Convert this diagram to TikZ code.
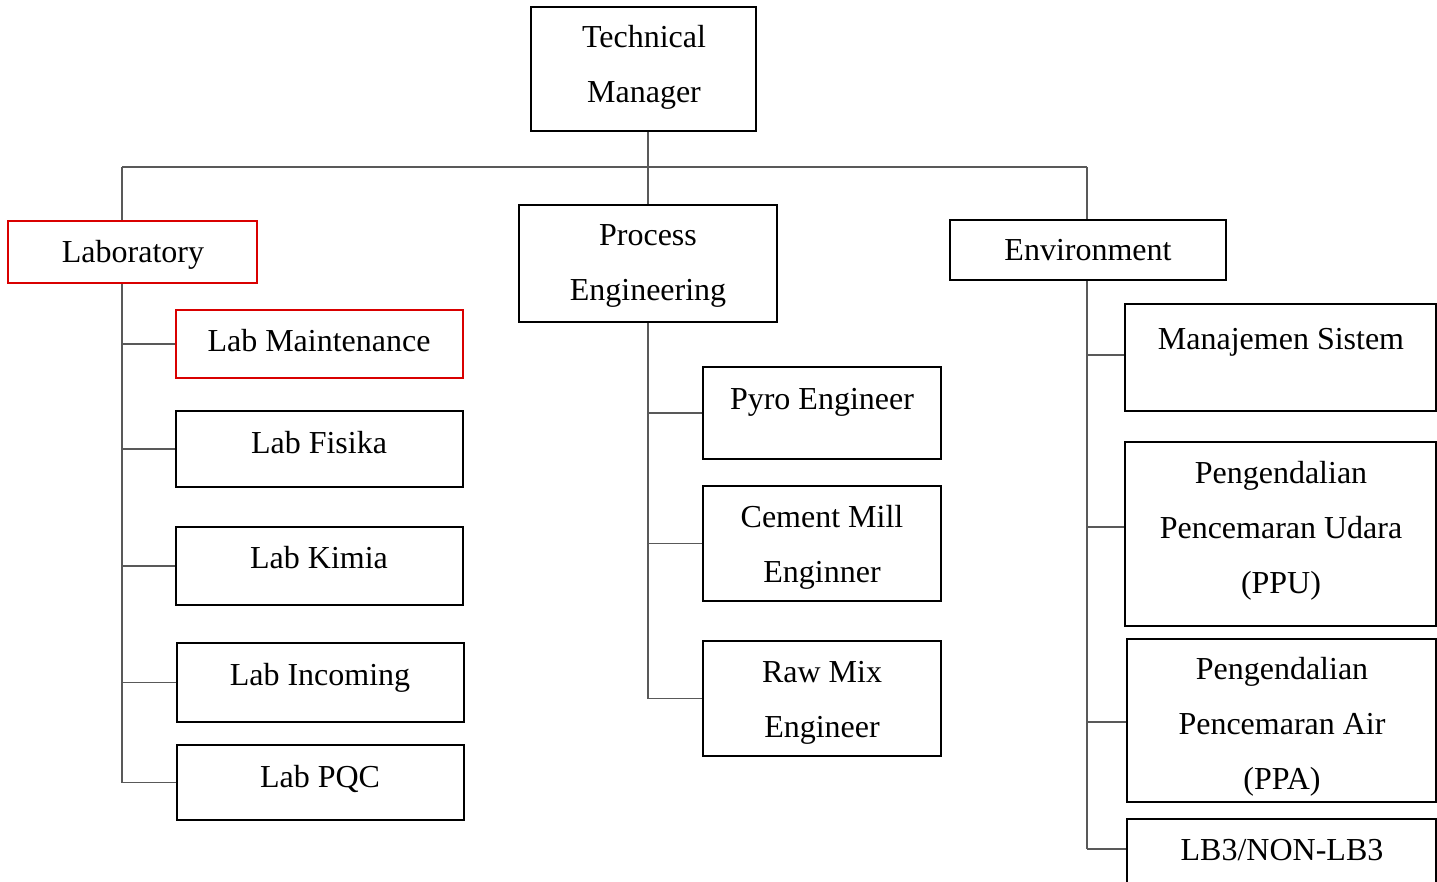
\documentclass[tikz,border=0pt]{standalone}
\usepackage{fontspec}
\setmainfont{Liberation Serif}
\begin{document}
\begin{tikzpicture}[x=1pt,y=-1pt,
  box/.style={draw=black,line width=2.2pt,inner sep=0pt},
  redbox/.style={draw=red!85!black,line width=2.2pt,inner sep=0pt},
  txt/.style={font=\fontsize{32}{55}\selectfont,align=center,anchor=base,inner sep=0pt},
  conn/.style={draw=black!65,line width=1.5pt}]
\useasboundingbox (0,0) rectangle (1437,882);
\clip (0,0) rectangle (1437,882);
% boxes (drawn by corners)
\newcommand{\bx}[6]{\node[#1,minimum width=#4-#2,minimum height=#5-#3] (#6) at ({(#2+#4)/2},{(#3+#5)/2}) {};}
\bx{box}{531}{7}{756}{131}{tm}
\bx{redbox}{8}{221}{257}{283}{lab}
\bx{redbox}{176}{310}{463}{378}{lm}
\bx{box}{176}{411}{463}{487}{lf}
\bx{box}{176}{527}{463}{605}{lk}
\bx{box}{177}{643}{464}{722}{li}
\bx{box}{177}{745}{464}{820}{lp}
\bx{box}{519}{205}{777}{322}{pe}
\bx{box}{703}{367}{941}{459}{pyro}
\bx{box}{703}{486}{941}{601}{cm}
\bx{box}{703}{641}{941}{756}{rm}
\bx{box}{950}{220}{1226}{280}{env}
\bx{box}{1125}{304}{1436}{411}{ms}
\bx{box}{1125}{442}{1436}{626}{ppu}
\bx{box}{1127}{639}{1436}{802}{ppa}
\bx{box}{1127}{819}{1436}{900}{lb3}
% texts (anchor base = baseline of the last line)
\node[txt] (ttm) at (644,103) {Technical\\Manager};
\node[txt] (tlab) at (133,263) {Laboratory};
\node[txt] (tlm) at (319,352) {Lab Maintenance};
\node[txt] (tlf) at (319,453) {Lab Fisika};
\node[txt] (tlk) at (319,568) {Lab Kimia};
\node[txt] (tli) at (320,685) {Lab Incoming};
\node[txt] (tlp) at (320,787) {Lab PQC};
\node[txt] (tpe) at (648,301) {Process\\Engineering};
\node[txt] (tpyro) at (822,409) {Pyro Engineer};
\node[txt] (tcm) at (822,582) {Cement Mill\\Enginner};
\node[txt] (trm) at (822,737) {Raw Mix\\Engineer};
\node[txt] (tenv) at (1088,261) {Environment};
\node[txt] (tms) at (1281,349) {Manajemen Sistem};
\node[txt] (tppu) at (1281,593) {Pengendalian\\Pencemaran Udara\\(PPU)};
\node[txt] (tppa) at (1282,789) {Pengendalian\\Pencemaran Air\\(PPA)};
\node[txt] (tlb3) at (1282,860) {LB3/NON-LB3};
% connectors
\coordinate (busl) at (122,167);
\coordinate (busr) at (1087,167);
\draw[conn] (tm.south-|pe.north) -- (pe.north);
\draw[conn] (busl) -- (busr);
\draw[conn] (busl) -- (busl|-lab.north);
\draw[conn] (busr) -- (busr|-env.north);
% laboratory branch
\draw[conn] (busl|-lab.south) -- (busl|-lp.west);
\foreach \n in {lm,lf,lk,li,lp} \draw[conn] (busl|-\n.west) -- (\n.west);
% process branch
\draw[conn] (pe.south) -- (pe.south|-rm.west);
\foreach \n in {pyro,cm,rm} \draw[conn] (pe.south|-\n.west) -- (\n.west);
% environment branch
\coordinate (envbot) at (1087,849);
\draw[conn] (busr|-env.south) -- (envbot);
\draw[conn] (1087,355) -- (ms.west|-0,355);
\draw[conn] (1087,527) -- (ppu.west|-0,527);
\draw[conn] (1087,722) -- (ppa.west|-0,722);
\draw[conn] (envbot) -- (lb3.west|-envbot);
\end{tikzpicture}
\end{document}
